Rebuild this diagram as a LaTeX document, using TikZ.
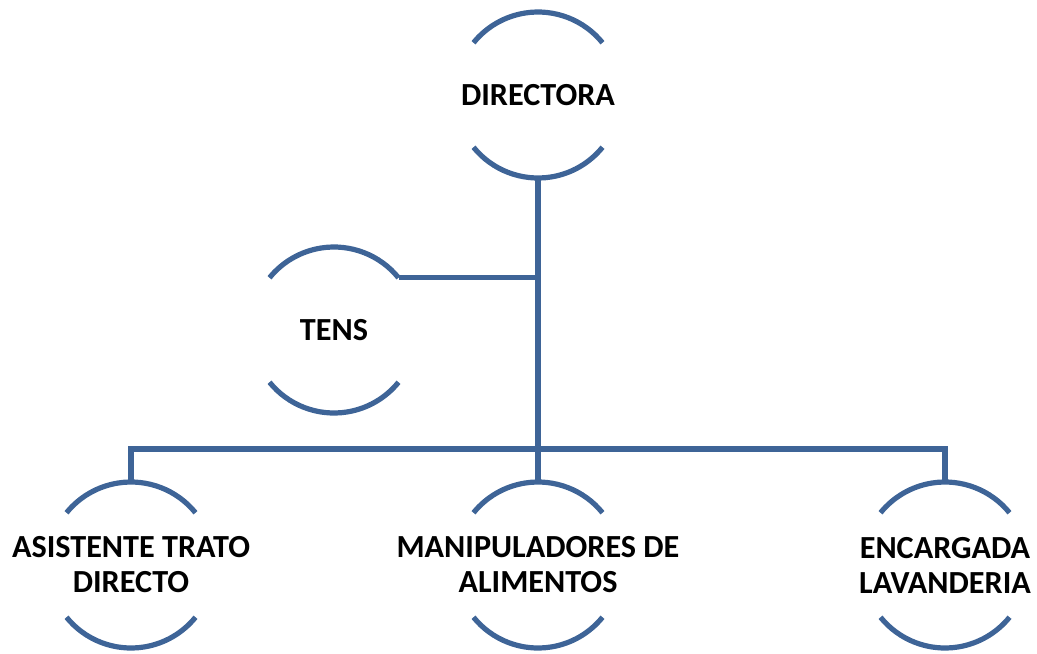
\documentclass[tikz,border=0pt]{standalone}
\usepackage{fontspec}
\setmainfont{Carlito}
\usetikzlibrary{calc}

\definecolor{orgblue}{HTML}{3E6497}

\begin{document}
\begin{tikzpicture}[x=0.5pt, y=-0.5pt,
  org/.style={color=orgblue, line width=2.6pt},
  cargo/.style={circle, minimum size=83pt, inner sep=0pt, outer sep=0pt},
  txt/.style={font=\fontsize{16.1}{17.5}\selectfont\bfseries, align=center}]
  \useasboundingbox (0,0) rectangle (1037,653);

  \node[cargo, label={[txt]center:DIRECTORA}] (dir) at (538,95) {};
  \node[cargo, label={[txt]center:TENS}] (tens) at (334,330) {};
  \node[cargo, label={[txt]center:ASISTENTE TRATO\\DIRECTO}] (asis) at (131,565) {};
  \node[cargo, label={[txt]center:MANIPULADORES DE\\ALIMENTOS}] (mani) at (538,565) {};
  \node[cargo, label={[txt]center:ENCARGADA\\LAVANDERIA}] (enca) at (945,565) {};

  \foreach \n in {dir,tens,asis,mani,enca}
  {
  \draw[org] (\n.39) arc (39:141:41.5pt);
  \draw[org] (\n.219) arc (219:321:41.5pt);
  }

  \coordinate (bus) at (538,449);
  \draw[org] (dir.south) -- (mani.north);
  \draw[org] (tens.39) -- (tens.39 -| dir.south);
  \draw[org] (asis.north) |- (bus) -| (enca.north);

\end{tikzpicture}
\end{document}
